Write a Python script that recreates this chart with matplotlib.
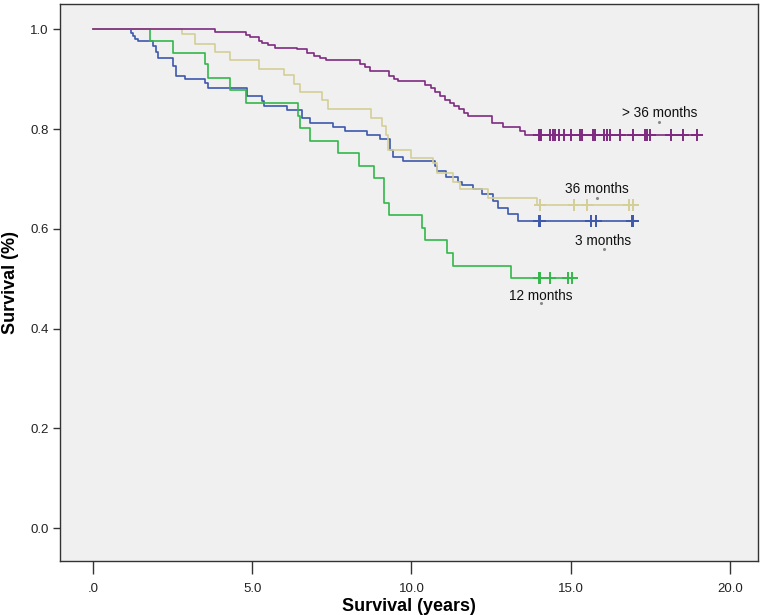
import matplotlib
matplotlib.use("Agg")
import matplotlib.pyplot as plt

# ---------------- data ----------------
# >36 months group
t_gt36 = [0, 3.82, 4.80, 4.94, 5.20, 5.30, 5.51, 5.72, 6.40, 6.72, 6.93, 7.14, 7.33,
          8.40, 8.55, 8.71, 9.31, 9.45, 9.59, 10.44, 10.60, 10.75, 10.90, 11.05,
          11.20, 11.35, 11.50, 11.65, 11.76, 12.53, 12.88, 13.40, 13.58]
s_gt36 = [1.0, 0.995, 0.989, 0.985, 0.977, 0.972, 0.968, 0.963, 0.960, 0.952, 0.947, 0.943, 0.938,
          0.930, 0.925, 0.916, 0.906, 0.901, 0.896, 0.889, 0.882, 0.875, 0.866, 0.859,
          0.852, 0.846, 0.840, 0.833, 0.827, 0.813, 0.804, 0.796, 0.789]
c_gt36 = [14.0, 14.03, 14.06, 14.35, 14.43, 14.50, 14.63, 14.79, 15.02, 15.28, 15.34, 15.71,
          15.76, 16.05, 16.15, 16.23, 16.54, 16.96, 17.34, 17.41, 17.49, 18.14, 18.54, 18.95]

# 36 months group
t_36 = [0, 2.79, 3.21, 3.84, 4.31, 5.20, 6.00, 6.30, 6.50, 7.19, 7.39, 8.73, 9.06, 9.20,
        9.25, 10.00, 10.68, 10.79, 11.32, 11.52, 12.40, 13.93]
s_36 = [1.0, 0.990, 0.970, 0.954, 0.938, 0.921, 0.908, 0.890, 0.874, 0.859, 0.841, 0.823, 0.806, 0.789,
        0.759, 0.742, 0.732, 0.712, 0.695, 0.679, 0.662, 0.647]
c_36 = [14.03, 15.10, 15.50, 16.83, 16.97]

# 3 months group
t_3 = [0, 1.19, 1.26, 1.31, 1.41, 1.88, 1.97, 2.04, 2.52, 2.61, 2.90, 3.52, 3.60, 4.84, 5.31,
       5.38, 6.09, 6.55, 6.81, 7.54, 7.91, 8.60, 9.01, 9.33, 9.42, 9.73, 10.74, 10.80, 11.10,
       11.46, 11.58, 11.93, 12.20, 12.56, 12.72, 13.03, 13.35]
s_3 = [1.0, 0.992, 0.986, 0.981, 0.977, 0.967, 0.954, 0.942, 0.927, 0.907, 0.900, 0.893, 0.882, 0.866, 0.856,
       0.847, 0.839, 0.823, 0.813, 0.804, 0.796, 0.788, 0.781, 0.759, 0.744, 0.736, 0.726, 0.716, 0.705,
       0.695, 0.689, 0.679, 0.669, 0.655, 0.642, 0.629, 0.615]
c_3 = [14.0, 14.03, 15.63, 15.80, 16.92, 16.96]

# 12 months group
t_12 = [0, 1.79, 2.50, 3.52, 3.62, 4.31, 4.80, 6.43, 6.51, 6.82, 7.71, 8.34, 8.81, 9.13, 9.31,
        10.34, 10.43, 11.12, 11.31, 13.13]
s_12 = [1.0, 0.977, 0.952, 0.930, 0.902, 0.878, 0.853, 0.827, 0.803, 0.777, 0.752, 0.727, 0.702, 0.652, 0.627,
        0.602, 0.577, 0.552, 0.526, 0.501]
c_12 = [14.0, 14.03, 14.34, 14.93, 15.05]

group_labels = ["> 36 months", "36 months", "3 months", "12 months"]
x_ticks = [0, 5, 10, 15, 20]
x_ticklabels = [".0", "5.0", "10.0", "15.0", "20.0"]
y_ticks = [0.0, 0.2, 0.4, 0.6, 0.8, 1.0]
y_ticklabels = ["0.0", "0.2", "0.4", "0.6", "0.8", "1.0"]

# ---------------- plot ----------------
plt.rcParams['font.family'] = ['Liberation Sans', 'DejaVu Sans']

fig = plt.figure(figsize=(7.68, 6.15), dpi=100, facecolor="white")
ax = fig.add_axes([0.078, 0.0878, 0.909, 0.9057])
ax.set_facecolor("#F0F0F0")

col_blue = "#3E58AC"
col_green = "#33B84A"
col_tan = "#D4CF97"
col_purple = "#7E2A80"


def km(ax, t, s, cens, color, lw=1.2):
    tt = list(t) + [max(cens)]
    ss = list(s) + [s[-1]]
    ax.step(tt, ss, where="post", color=color, lw=lw, zorder=3)
    ax.plot(cens, [s[-1]] * len(cens), linestyle="none", marker="+",
            markersize=9, markeredgewidth=1.4, color=color, zorder=4)


km(ax, t_3, s_3, c_3, col_blue)
km(ax, t_12, s_12, c_12, col_green)
km(ax, t_36, s_36, c_36, col_tan)
km(ax, t_gt36, s_gt36, c_gt36, col_purple)

# group labels (SPSS style, with the small anchor dot)
label_pos = [(17.8, 0.833), (15.82, 0.679), (16.0, 0.576), (14.07, 0.466)]
dot_pos = [(17.78, 0.815), (15.83, 0.662), (16.04, 0.560), (14.07, 0.452)]
for lab, (lx, ly), (dx, dy) in zip(group_labels, label_pos, dot_pos):
    ax.text(lx, ly, lab, ha="center", va="center", fontsize=9.8, color="#111111", zorder=5)
    ax.plot([dx], [dy], marker="o", markersize=1.2, color="#888888", linestyle="none", zorder=5)

ax.set_xlim(-1.036, 20.88)
ax.set_ylim(-0.066, 1.051)
ax.set_xticks(x_ticks)
ax.set_xticklabels(x_ticklabels)
ax.set_yticks(y_ticks)
ax.set_yticklabels(y_ticklabels)

for lbl in ax.get_xticklabels() + ax.get_yticklabels():
    lbl.set_fontsize(9.5)
    lbl.set_color("#222222")

ax.tick_params(axis="x", direction="out", length=9, width=1.0, pad=7, color="#333333")
ax.tick_params(axis="y", direction="out", length=5, width=1.0, pad=3, color="#333333")

for sp in ax.spines.values():
    sp.set_color("#333333")
    sp.set_linewidth(1.0)

ax.set_xlabel("Survival (years)", fontweight="bold", fontsize=13, labelpad=2)
ax.set_ylabel("Survival (%)", fontweight="bold", fontsize=13, labelpad=8)

fig.savefig("out.png", dpi=100, facecolor="white")
